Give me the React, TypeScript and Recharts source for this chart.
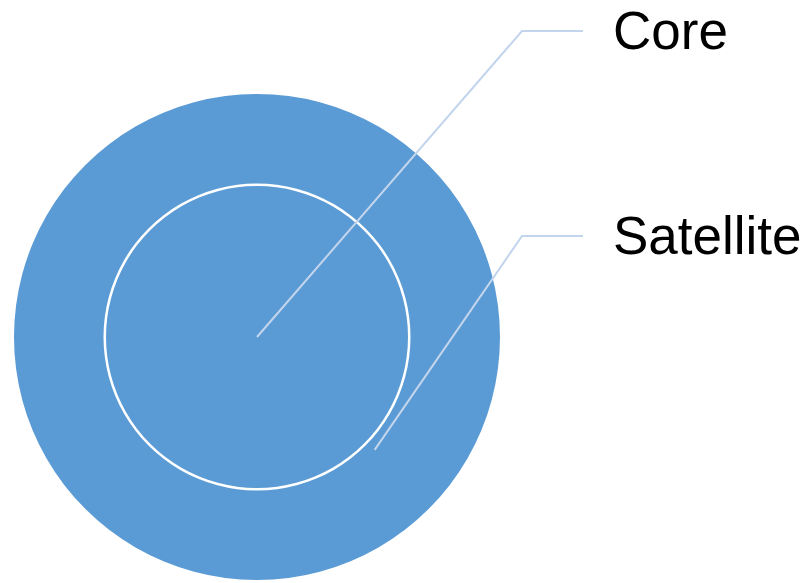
import { Pie, PieChart } from "recharts";

// one slice per ring; the picture shows no values, only the two rings
const coreData = [{ name: "Core", value: 1 }];
const satelliteData = [{ name: "Satellite", value: 1 }];

const FILL = "#5B9BD5";
const LEADER = "#C3D5EC";

// leader geometry relative to the chart centre
const ELBOW_DX = 265;
const END_DX = 326;
const TEXT_DX = 356;

function makeLabel(anchorRadius: number, anchorAngle: number, elbowDy: number) {
  return (props: any) => {
    const { cx, cy, name } = props;
    const rad = (-anchorAngle * Math.PI) / 180;
    const x0 = cx + anchorRadius * Math.cos(rad);
    const y0 = cy + anchorRadius * Math.sin(rad);
    const ex = cx + ELBOW_DX;
    const ey = cy + elbowDy;
    return (
      <g>
        <polyline
          points={`${x0},${y0} ${ex},${ey} ${cx + END_DX},${ey}`}
          fill="none"
          stroke={LEADER}
          strokeWidth={2}
        />
        <text
          x={cx + TEXT_DX}
          y={ey}
          dy="0.34em"
          fontSize={53}
          fontFamily="'Liberation Sans', Arial, sans-serif"
          fill="#000"
        >
          {name}
        </text>
      </g>
    );
  };
}

export default function App() {
  return (
    <div style={{ position: "absolute", left: 0, top: 0, width: 805, height: 583, background: "#fff" }}>
      <PieChart width={805} height={583} margin={{ top: 0, right: 0, bottom: 0, left: 0 }}>
        <Pie
          data={satelliteData}
          dataKey="value"
          nameKey="name"
          cx={257}
          cy={337}
          innerRadius={153.5}
          outerRadius={243}
          fill={FILL}
          stroke="none"
          startAngle={90}
          endAngle={-270}
          isAnimationActive={false}
          labelLine={false}
          label={makeLabel(163, -43.8, -101)}
        />
        <Pie
          data={coreData}
          dataKey="value"
          nameKey="name"
          cx={257}
          cy={337}
          innerRadius={0}
          outerRadius={151}
          fill={FILL}
          stroke="none"
          startAngle={90}
          endAngle={-270}
          isAnimationActive={false}
          labelLine={false}
          label={makeLabel(0, 0, -306)}
        />
      </PieChart>
    </div>
  );
}
